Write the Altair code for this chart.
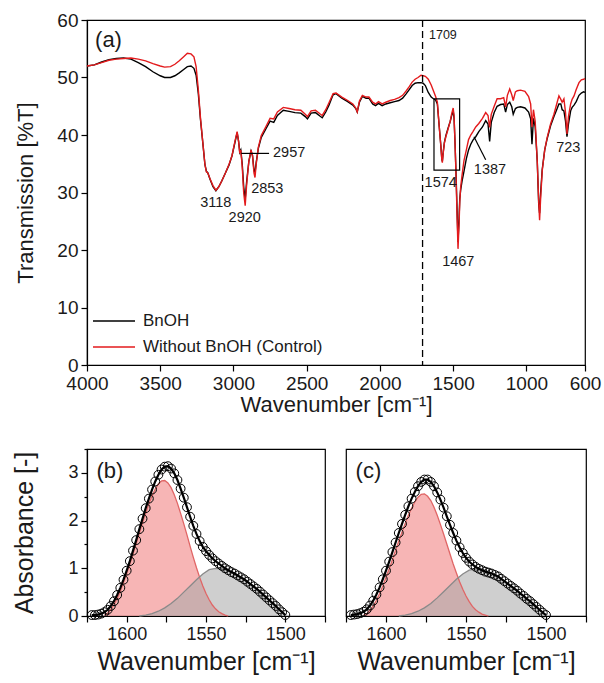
import altair as alt
import pandas as pd

# ---------------- (a) FTIR spectra ----------------
WAVENUMBER = [4000,3950,3900,3850,3800,3750,3700,3650,3600,3550,3500,3470,3430,3400,3370,3340,3315,3290,3270,3255,
              3240,3225,3210,3195,3185,3175,3160,3140,3120,3100,3080,3055,3030,3010,2990,2975,2965,2957,2950,2940,
              2930,2920,2910,2895,2880,2870,2860,2853,2845,2830,2810,2780,2750,2725,2700,2660,2620,2580,2540,2510,
              2495,2470,2440,2410,2394,2370,2348,2320,2300,2260,2220,2185,2165,2155,2140,2120,2095,2075,2050,2030,
              2010,1985,1960,1930,1900,1870,1845,1820,1800,1780,1760,1740,1720,1705,1690,1670,1650,1635,1620,1608,
              1595,1585,1578,1574,1568,1560,1550,1535,1520,1510,1500,1494,1487,1480,1474,1467,1460,1455,1449,1440,
              1426,1410,1395,1380,1365,1346,1325,1300,1278,1262,1251,1240,1220,1200,1176,1155,1142,1130,1114,1100,
              1090,1075,1062,1040,1010,985,971,962,952,940,926,916,910,903,892,875,858,835,812,790,
              778,765,756,744,733,723,713,698,688,675,660,641,625,610,600]

T_CONTROL = [52.0,52.2,52.6,53.0,53.2,53.3,53.4,53.2,52.9,52.4,52.0,51.8,51.9,52.3,52.9,53.6,54.2,54.1,53.6,51.9,
             47.9,42.9,38.9,34.9,33.6,33.4,32.4,31.2,30.4,31.0,32.0,33.4,34.9,36.4,38.9,40.6,38.9,36.8,37.4,34.4,
             29.9,27.7,31.4,35.4,37.4,36.4,33.4,32.6,34.9,37.9,39.9,41.4,42.9,42.8,44.0,44.8,44.6,44.4,44.3,43.6,
             43.2,44.2,44.3,43.7,43.4,44.4,45.6,47.2,47.3,46.6,46.0,45.4,44.7,44.0,45.9,46.9,46.6,46.6,45.7,45.4,
             45.8,45.4,45.7,46.0,46.2,46.5,46.9,47.7,48.4,49.2,49.7,50.0,50.4,50.3,50.2,49.7,48.7,47.7,46.7,45.7,
             41.4,38.4,35.9,35.2,36.9,38.6,39.7,41.0,42.4,43.7,44.7,43.4,38.4,32.4,26.4,20.2,24.4,28.4,30.9,32.9,
             35.6,37.4,39.2,40.0,40.6,41.4,42.0,42.9,43.9,43.4,41.3,43.6,45.0,46.3,46.3,46.5,44.9,46.9,48.0,47.0,
             46.0,47.5,47.7,47.8,47.6,46.7,45.4,41.4,44.4,42.4,35.4,28.4,25.2,28.9,33.8,37.4,39.6,41.9,43.6,45.7,
             46.8,46.2,45.7,46.3,43.9,40.2,43.2,45.4,46.2,46.8,47.9,49.1,49.6,49.7,49.8]

T_BNOH = [52.0,52.2,52.7,53.1,53.3,53.4,53.2,52.6,51.9,51.0,50.3,50.0,50.0,50.3,50.8,51.4,51.9,52.0,51.6,50.4,
          47.2,42.6,38.8,34.9,33.7,33.4,32.3,31.0,30.3,31.0,32.0,33.4,34.8,36.4,38.7,40.4,38.9,37.0,37.4,34.9,
          30.9,28.9,31.9,35.4,37.2,36.4,33.9,33.4,35.2,37.7,39.6,41.0,42.4,42.2,43.4,44.3,44.1,43.9,43.8,43.2,
          42.8,43.8,43.9,43.3,43.0,44.0,45.2,47.0,47.2,46.4,45.8,45.2,44.6,44.0,45.7,46.7,46.4,46.4,45.4,45.1,
          45.5,45.1,45.4,45.6,45.8,46.0,46.4,47.2,47.9,48.6,49.0,49.1,49.1,49.0,48.6,47.4,46.6,46.3,46.1,45.4,
          41.4,38.4,36.0,35.4,37.0,38.7,39.9,41.2,42.4,43.4,44.2,42.9,38.4,32.9,27.4,21.4,25.4,28.9,30.4,31.9,
          33.7,35.9,37.4,38.4,39.1,39.7,40.6,41.4,42.5,41.9,38.9,42.2,43.9,45.0,45.3,45.4,44.0,45.3,45.7,44.9,
          43.6,44.6,44.8,44.9,44.7,44.0,42.8,38.4,42.9,41.4,35.5,27.9,26.4,29.9,34.0,37.4,39.4,41.6,43.2,44.6,
          45.4,45.4,44.4,44.2,42.4,39.7,41.9,44.2,44.8,45.2,45.8,46.9,47.3,47.5,47.4]

SERIES = ["BnOH", "Without BnOH (Control)"]
SERIES_COLORS = ["#000000", "#e31a1c"]

PEAK_LABELS = ["3118", "2920", "2853", "1574", "1467", "1387", "723"]
PEAK_LABEL_W = [3121, 2923, 2769, 1585, 1465, 1249, 714]
PEAK_LABEL_T = [28.2, 25.6, 30.6, 31.6, 18.0, 33.9, 37.7]

SIDE_LABELS = ["2957"]
SIDE_LABEL_W = [2730]
SIDE_LABEL_T = [36.8]

LEADER_W1 = [2947, 1358]
LEADER_W2 = [2757, 1278]
LEADER_T1 = [36.8, 39.7]
LEADER_T2 = [36.8, 35.7]

DASH_W = [1709]
DASH_LABEL = ["1709"]
DASH_LABEL_W = [1665]
DASH_LABEL_T = [57.4]

BOX_W1, BOX_W2 = [1631], [1456]
BOX_T1, BOX_T2 = [33.9], [46.3]

PANEL_A = ["(a)"]
PANEL_A_W = [3945]
PANEL_A_T = [56.5]

XT_VALUES = [4000, 3750, 3500, 3250, 3000, 2750, 2500, 2250, 2000, 1750, 1500, 1250, 1000, 750, 600]
YT_VALUES = [0, 5, 10, 15, 20, 25, 30, 35, 40, 45, 50, 55, 60]

# ---------------- (b), (c) band deconvolution ----------------
X_ENV = list(range(1622, 1499, -2))
X_RED = list(range(1614, 1535, -2))
X_GRAY = list(range(1592, 1499, -4))

B_ENV = [0.02,0.02,0.03,0.05,0.08,0.13,0.21,0.31,0.44,0.59,0.76,0.95,1.15,1.37,1.59,1.82,2.04,2.26,2.46,2.65,
         2.82,2.96,3.07,3.13,3.14,3.09,2.99,2.85,2.67,2.48,2.28,2.08,1.89,1.72,1.57,1.45,1.36,1.28,1.21,1.15,
         1.10,1.05,1.00,0.96,0.92,0.89,0.85,0.81,0.77,0.72,0.67,0.62,0.57,0.51,0.45,0.39,0.33,0.27,0.21,0.14,
         0.08,0.02]
B_RED = [0.02,0.06,0.14,0.24,0.37,0.52,0.70,0.89,1.09,1.30,1.52,1.74,1.96,2.16,2.35,2.52,2.66,2.77,2.83,2.84,
         2.79,2.69,2.54,2.36,2.15,1.93,1.70,1.46,1.23,1.01,0.81,0.63,0.47,0.34,0.23,0.15,0.09,0.05,0.02,0.0]
B_GRAY = [0.0,0.02,0.05,0.10,0.17,0.26,0.37,0.50,0.63,0.76,0.88,0.97,1.00,0.99,0.95,0.88,0.80,0.71,0.60,0.49,
          0.37,0.25,0.13,0.02]

C_ENV = [0.02,0.03,0.04,0.06,0.09,0.14,0.22,0.32,0.45,0.60,0.77,0.95,1.14,1.34,1.54,1.74,1.93,2.12,2.30,2.46,
         2.60,2.72,2.81,2.86,2.86,2.81,2.72,2.59,2.44,2.27,2.09,1.91,1.74,1.58,1.44,1.32,1.22,1.14,1.08,1.03,
         0.99,0.96,0.93,0.91,0.89,0.86,0.83,0.78,0.73,0.68,0.63,0.58,0.53,0.47,0.42,0.36,0.31,0.25,0.19,0.13,
         0.07,0.02]
C_RED = [0.02,0.05,0.12,0.21,0.33,0.47,0.63,0.81,0.99,1.18,1.38,1.57,1.76,1.94,2.11,2.26,2.39,2.49,2.55,2.56,
         2.51,2.42,2.28,2.11,1.92,1.72,1.51,1.30,1.09,0.90,0.72,0.56,0.42,0.30,0.20,0.13,0.08,0.04,0.02,0.0]
C_GRAY = [0.0,0.02,0.05,0.10,0.17,0.26,0.38,0.51,0.64,0.77,0.88,0.96,0.99,0.98,0.93,0.86,0.77,0.67,0.57,0.46,
          0.35,0.24,0.12,0.02]

XB_VALUES = [1625, 1600, 1575, 1550, 1525, 1500, 1475]
XB_LABELLED = "datum.value === 1600 || datum.value === 1550 || datum.value === 1500"
YB_VALUES = [0, 0.5, 1, 1.5, 2, 2.5, 3, 3.5]

FONT = "Liberation Sans"
TXT = "#1a1a1a"
XTITLE = "Wavenumber [cm\u207b\u00b9]"

# ---------------- build (a) ----------------
spec = pd.concat([
    pd.DataFrame({"w": WAVENUMBER, "T": T_BNOH, "series": SERIES[0]}),
    pd.DataFrame({"w": WAVENUMBER, "T": T_CONTROL, "series": SERIES[1]}),
], ignore_index=True)

x_a = alt.X("w:Q", scale=alt.Scale(domain=[600, 4000], reverse=True, nice=False, zero=False),
            axis=alt.Axis(title=XTITLE, values=XT_VALUES, format="d",
                          labelExpr="(datum.value % 500 === 0 || datum.value === 600) ? '' + datum.value : ''",
                          tickSize={"condition": {"test": "datum.value % 500 === 0 || datum.value === 600", "value": 6}, "value": 3},
                          labelFlush=False, labelOverlap=False, labelFontSize=19, titleFontSize=22,
                          labelPadding=3, titlePadding=1))
y_a = alt.Y("T:Q", scale=alt.Scale(domain=[0, 60], nice=False),
            axis=alt.Axis(title="Transmission [%T]", values=YT_VALUES, format="d",
                          labelExpr="datum.value % 10 === 0 ? '' + datum.value : ''",
                          tickSize={"condition": {"test": "datum.value % 10 === 0", "value": 6}, "value": 3},
                          labelFlush=False, labelOverlap=False, labelFontSize=19, titleFontSize=22,
                          labelPadding=3, titlePadding=19))

lines = alt.Chart(spec).mark_line(strokeWidth=1.4).encode(
    x=x_a, y=y_a,
    color=alt.Color("series:N", scale=alt.Scale(domain=SERIES, range=SERIES_COLORS),
                    legend=alt.Legend(title=None, orient="none", legendX=5, legendY=289,
                                      symbolType="stroke", symbolSize=1764, symbolStrokeWidth=1.3,
                                      clipHeight=24, labelFontSize=17, labelOffset=7, rowPadding=2,
                                      padding=0, labelColor=TXT, labelFont=FONT, labelLimit=0)),
)

dash = alt.Chart(pd.DataFrame({"w": DASH_W})).mark_rule(
    color="black", strokeWidth=1.3, strokeDash=[7, 4]).encode(x="w:Q")

box = alt.Chart(pd.DataFrame({"w": BOX_W1, "w2": BOX_W2, "T": BOX_T1, "T2": BOX_T2})).mark_rect(
    fillOpacity=0, stroke="black", strokeWidth=1.2).encode(x="w:Q", x2="w2", y="T:Q", y2="T2")

leaders = alt.Chart(pd.DataFrame({"w": LEADER_W1, "w2": LEADER_W2, "T": LEADER_T1, "T2": LEADER_T2})).mark_rule(
    color="black", strokeWidth=1.2).encode(x="w:Q", x2="w2", y="T:Q", y2="T2")

peak_txt = alt.Chart(pd.DataFrame({"w": PEAK_LABEL_W, "T": PEAK_LABEL_T, "label": PEAK_LABELS})).mark_text(
    fontSize=14.5, color=TXT, align="center", baseline="middle", font=FONT).encode(x="w:Q", y="T:Q", text="label:N")

side_txt = alt.Chart(pd.DataFrame({"w": SIDE_LABEL_W, "T": SIDE_LABEL_T, "label": SIDE_LABELS})).mark_text(
    fontSize=14.5, color=TXT, align="left", baseline="middle", font=FONT).encode(x="w:Q", y="T:Q", text="label:N")

dash_txt = alt.Chart(pd.DataFrame({"w": DASH_LABEL_W, "T": DASH_LABEL_T, "label": DASH_LABEL})).mark_text(
    fontSize=12.5, color=TXT, align="left", baseline="middle", font=FONT).encode(x="w:Q", y="T:Q", text="label:N")

panel_a = alt.Chart(pd.DataFrame({"w": PANEL_A_W, "T": PANEL_A_T, "label": PANEL_A})).mark_text(
    fontSize=22, color=TXT, align="left", baseline="middle", font=FONT).encode(x="w:Q", y="T:Q", text="label:N")

top = alt.layer(lines, dash, box, leaders, peak_txt, side_txt, dash_txt, panel_a).properties(width=498, height=345)


# ---------------- build (b), (c) ----------------
def band_panel(env, red, gray, label, width, show_y):
    x_scale = alt.Scale(domain=[1475, 1625], reverse=True, nice=False, zero=False)
    y_scale = alt.Scale(domain=[0, 3.5], nice=False)
    x_axis = alt.Axis(title=XTITLE, values=XB_VALUES,
                      labelExpr="(" + XB_LABELLED + ") ? '' + datum.value : ''",
                      tickSize=6, labelFlush=False, labelOverlap=False,
                      labelFontSize=18, titleFontSize=25, labelPadding=3, titlePadding=6)
    if show_y:
        y_axis = alt.Axis(title="Absorbance [-]", values=YB_VALUES,
                          labelExpr="datum.value % 1 === 0 ? '' + datum.value : ''",
                          tickSize={"condition": {"test": "datum.value % 1 === 0", "value": 6}, "value": 3},
                          labelFlush=False, labelOverlap=False, labelFontSize=18, titleFontSize=25,
                          labelPadding=3, titlePadding=30)
    else:
        y_axis = None

    def xe():
        return alt.X("w:Q", scale=x_scale, axis=x_axis)

    def ye():
        return alt.Y("A:Q", scale=y_scale, axis=y_axis, stack=None)

    env_df = pd.DataFrame({"w": X_ENV, "A": env})
    red_df = pd.DataFrame({"w": X_RED, "A": red})
    gray_df = pd.DataFrame({"w": X_GRAY, "A": gray})
    lab_df = pd.DataFrame({"w": [1619], "A": [3.04], "label": [label]})

    fit = alt.Chart(env_df).mark_line(color="black", strokeWidth=2.2).encode(x=xe(), y=ye())
    red_area = alt.Chart(red_df).mark_area(color="#f07878", opacity=0.55).encode(x=xe(), y=ye())
    gray_area = alt.Chart(gray_df).mark_area(color="#a8a8a8", opacity=0.55).encode(x=xe(), y=ye())
    red_line = alt.Chart(red_df).mark_line(color="#e06666", strokeWidth=1.3).encode(x=xe(), y=ye())
    gray_line = alt.Chart(gray_df).mark_line(color="#8a8a8a", strokeWidth=1.3).encode(x=xe(), y=ye())
    pts = alt.Chart(env_df).mark_point(shape="circle", filled=False, size=78, color="black",
                                       strokeWidth=1, opacity=1).encode(x=xe(), y=ye())
    txt = alt.Chart(lab_df).mark_text(fontSize=22, color=TXT, align="left", baseline="middle",
                                      font=FONT).encode(x=xe(), y=ye(), text="label:N")
    return alt.layer(red_area, gray_area, red_line, gray_line, fit, pts, txt).properties(width=width, height=167)


panel_b = band_panel(B_ENV, B_RED, B_GRAY, "(b)", 238, True)
panel_c = band_panel(C_ENV, C_RED, C_GRAY, "(c)", 240, False)

bottom = alt.hconcat(panel_b, panel_c, spacing=21, bounds="flush")

chart = alt.vconcat(top, bottom, spacing=84, bounds="flush").properties(
    padding={"left": 12, "top": 10, "right": 0, "bottom": 0}
).configure(font=FONT).configure_view(
    stroke="black", strokeWidth=1.2
).configure_axis(
    grid=False, domainColor="black", tickColor="black", domainWidth=1.2, tickWidth=1.2,
    labelColor=TXT, titleColor=TXT, titleFontWeight="normal", labelFont=FONT, titleFont=FONT
)

chart.save("out.html", embed_options={"renderer": "svg", "actions": False})
